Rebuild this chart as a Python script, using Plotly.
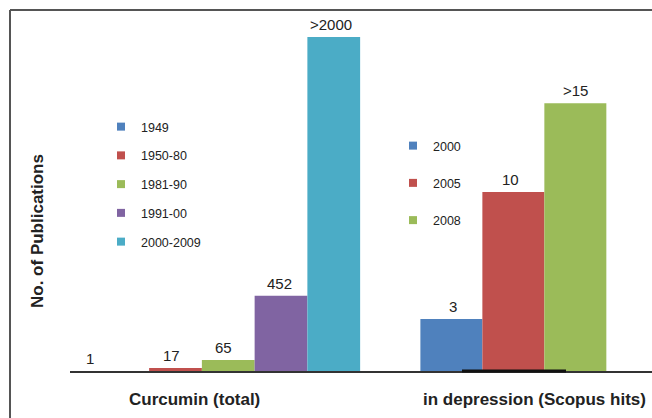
import plotly.graph_objects as go

# ---------------- data ----------------
curcumin_periods = ["1949", "1950-80", "1981-90", "1991-00", "2000-2009"]
curcumin_labels = ["1", "17", "65", "452", ">2000"]
# drawn bar heights (relative units, tallest = 100)
curcumin_heights = [0, 0.9, 3.3, 22.5, 100]

depression_years = ["2000", "2005", "2008"]
depression_labels = ["3", "10", ">15"]
depression_heights = [15.6, 53.6, 80.2]

group_names = ["Curcumin (total)", "in depression (Scopus hits)"]

# ---------------- style ----------------
FONT = "Liberation Sans, Arial, sans-serif"
TXT = "#222222"
curcumin_colors = ["#4f81bd", "#c0504d", "#9bbb59", "#8064a2", "#4bacc6"]
depression_colors = ["#4f81bd", "#c0504d", "#9bbb59"]

W, H = 652, 418
ML, MR, MT, MB = 70, 0, 10, 47
PW, PH = W - ML - MR, H - MT - MB
UNIT = 52.75                      # px per x unit (left bar width)
LEFT_START, LEFT_W = 1.0, 1.0
RIGHT_START, RIGHT_W = 7.23, 1.175
YMAX = PH / 334 * 100             # tallest bar top at 334 px above baseline

left_x = [LEFT_START + i * LEFT_W for i in range(len(curcumin_periods))]
right_x = [RIGHT_START + j * RIGHT_W for j in range(len(depression_years))]

label_xshift_left = [-33, -4, -5, -2, -3]
label_xshift_right = [2, -3, 0]


def px_x(p):
    return (p - ML) / PW


def px_y(p):
    return (H - MB - p) / PH


fig = go.Figure()

fig.add_trace(go.Bar(x=left_x, y=curcumin_heights, width=LEFT_W,
                     marker=dict(color=curcumin_colors, line=dict(width=0)),
                     showlegend=False, hoverinfo="skip"))
fig.add_trace(go.Bar(x=right_x, y=depression_heights, width=RIGHT_W,
                     marker=dict(color=depression_colors, line=dict(width=0)),
                     showlegend=False, hoverinfo="skip"))

# legend entries
for i, (name, c) in enumerate(zip(curcumin_periods, curcumin_colors)):
    fig.add_trace(go.Scatter(x=[None], y=[None], mode="markers", name=name,
                             marker=dict(symbol="square", size=8, color=c),
                             legend="legend", legendgroup="a%d" % i))
for j, (name, c) in enumerate(zip(depression_years, depression_colors)):
    fig.add_trace(go.Scatter(x=[None], y=[None], mode="markers", name=name,
                             marker=dict(symbol="square", size=8, color=c),
                             legend="legend2", legendgroup="b%d" % j))

annotations = []
for x, h, t, s in zip(left_x, curcumin_heights, curcumin_labels, label_xshift_left):
    annotations.append(dict(x=x, y=h, xref="x", yref="y", text=t, showarrow=False,
                            yanchor="bottom", xshift=s, yshift=2,
                            font=dict(size=15, color=TXT, family=FONT)))
for x, h, t, s in zip(right_x, depression_heights, depression_labels, label_xshift_right):
    annotations.append(dict(x=x, y=h, xref="x", yref="y", text=t, showarrow=False,
                            yanchor="bottom", xshift=s, yshift=2,
                            font=dict(size=15, color=TXT, family=FONT)))

group_label_px = [194, 534]
for name, gx in zip(group_names, group_label_px):
    annotations.append(dict(x=px_x(gx), y=px_y(400), xref="paper", yref="paper",
                            text="<b>%s</b>" % name, showarrow=False,
                            xanchor="center", yanchor="middle",
                            font=dict(size=17, color=TXT, family=FONT)))

annotations.append(dict(x=px_x(38), y=px_y(231), xref="paper", yref="paper",
                        text="<b>No. of Publications</b>", showarrow=False,
                        textangle=-90, xanchor="center", yanchor="middle",
                        font=dict(size=17, color=TXT, family=FONT)))

shapes = [
    dict(type="line", xref="paper", yref="paper", x0=px_x(10), x1=px_x(10),
         y0=px_y(10), y1=px_y(H + 20), line=dict(color="#555555", width=2)),
    dict(type="line", xref="paper", yref="paper", x0=px_x(10), x1=px_x(W + 20),
         y0=px_y(10), y1=px_y(10), line=dict(color="#555555", width=2)),
    # darker smudge on the baseline under the second group
    dict(type="line", xref="paper", yref="paper", x0=px_x(462), x1=px_x(566),
         y0=px_y(371), y1=px_y(371), line=dict(color="#111111", width=3)),
]

fig.update_layout(
    width=W, height=H,
    margin=dict(l=ML, r=MR, t=MT, b=MB, pad=0),
    paper_bgcolor="white", plot_bgcolor="white",
    barmode="overlay",
    font=dict(family=FONT, color=TXT),
    xaxis=dict(range=[0, PW / UNIT], showgrid=False, zeroline=False,
               showticklabels=False, ticks="", showline=True,
               linecolor="#333333", linewidth=2, fixedrange=True),
    yaxis=dict(range=[0, YMAX], showgrid=False, zeroline=False,
               showticklabels=False, ticks="", showline=False, fixedrange=True),
    legend=dict(x=px_x(101), y=px_y(112), xanchor="left", yanchor="top",
                bgcolor="rgba(0,0,0,0)", borderwidth=0, tracegroupgap=9.5,
                font=dict(size=12.5, color=TXT, family=FONT)),
    legend2=dict(x=px_x(393), y=px_y(131), xanchor="left", yanchor="top",
                 bgcolor="rgba(0,0,0,0)", borderwidth=0, tracegroupgap=18,
                 font=dict(size=12.5, color=TXT, family=FONT)),
    annotations=annotations,
    shapes=shapes,
)

fig.write_html("out.html", config={"displayModeBar": False},
               post_script="document.body.style.margin='0';document.body.style.padding='0';")
